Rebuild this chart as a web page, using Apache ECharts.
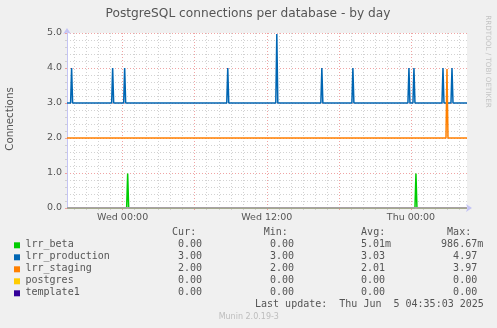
<!DOCTYPE html>
<html><head><meta charset="utf-8">
<script src="https://cdn.jsdelivr.net/npm/echarts@6/dist/echarts.min.js"></script>
<style>html,body{margin:0;padding:0;background:#f0f0f0}#c{width:497px;height:328px}</style>
</head><body><div id="c"></div>
<script>
// x values are hours relative to Wed 00:00
const xStart = -4.6333;   // Tue 19:22
const xEnd = 28.6667;     // Thu 04:40
const sampleStep = 5 / 60; // 5-minute samples

const labelHours = [0, 12, 24];
const labelTexts = ['Wed 00:00', 'Wed 12:00', 'Thu 00:00'];
const majorGridHours = [0, 6, 12, 18, 24];
const minorGridHours = [-4, -3, -2, -1, 1, 2, 3, 4, 5, 7, 8, 9, 10, 11, 13, 14, 15, 16, 17, 19, 20, 21, 22, 23, 25, 26, 27, 28];

const seriesNames = ['lrr_beta', 'lrr_production', 'lrr_staging', 'postgres', 'template1'];
const seriesColors = ['#00CC00', '#0066B3', '#FF8000', '#FFCC00', '#330099'];
const baselineValues = [0, 3, 2, 0, 0];

const betaSpikeHours = [0.417, 24.417];
const betaSpikeValues = [0.98667, 0.98667];
const productionSpikeHours = [-4.25, -0.833, 0.167, 8.75, 12.833, 16.583, 19.167, 23.833, 24.25, 26.667, 27.417];
const productionSpikeValues = [4, 4, 4, 4, 4.97, 4, 4, 4, 4, 4, 4];
const stagingSpikeHours = [27.0];
const stagingSpikeValues = [3.97];
const postgresSpikeHours = [];
const postgresSpikeValues = [];
const template1SpikeHours = [];
const template1SpikeValues = [];

const curValues = ['0.00', '3.00', '2.00', '0.00', '0.00'];
const minValues = ['0.00', '3.00', '2.00', '0.00', '0.00'];
const avgValues = ['5.01m', '3.03', '2.01', '0.00', '0.00'];
const maxValues = ['986.67m', '4.97', '3.97', '0.00', '0.00'];
const lastUpdate = 'Last update:  Thu Jun  5 04:35:03 2025';

const spikeHours = [betaSpikeHours, productionSpikeHours, stagingSpikeHours, postgresSpikeHours, template1SpikeHours];
const spikeValues = [betaSpikeValues, productionSpikeValues, stagingSpikeValues, postgresSpikeValues, template1SpikeValues];

function buildData(i) {
  const base = baselineValues[i];
  const pts = [[xStart, base]];
  spikeHours[i].forEach((t, k) => {
    pts.push([t - sampleStep, base], [t, spikeValues[i][k]], [t + sampleStep, base]);
  });
  pts.push([xEnd, base]);
  return pts;
}

// the template1 line sits on the x axis and renders half-blended in the original
const lineDrawColors = ['#00CC00', '#0066B3', '#FF8000', '#FFCC00', '#9a90d8'];
const series = seriesNames.map((n, i) => ({
  name: n, type: 'line', data: buildData(i), showSymbol: false, symbol: 'none',
  animation: false, silent: true,
  lineStyle: { color: lineDrawColors[i], width: 1.5 },
  xAxisIndex: 0, yAxisIndex: 0
}));

const MONO = '"DejaVu Sans Mono"';
const SANS = '"DejaVu Sans"';
const TXT = '#555';
const graphic = [];
function txt(text, x, y, opt) {
  opt = opt || {};
  graphic.push({
    type: 'text', x: x, y: y, rotation: opt.rotation || 0, silent: true,
    style: {
      text: text, x: 0, y: 0,
      font: opt.font || ('10px ' + MONO),
      fill: opt.fill || TXT,
      textAlign: opt.align || 'left', align: opt.align || 'left',
      textVerticalAlign: 'middle', verticalAlign: 'middle'
    }
  });
}
txt('PostgreSQL connections per database - by day', 248, 14, { font: '12.2px ' + SANS, align: 'center' });
txt('Connections', 10.5, 119, { font: '10.3px ' + SANS, align: 'center', rotation: Math.PI / 2 });
txt('RRDTOOL / TOBI OETIKER', 488, 61.5, { font: '7.2px ' + SANS, align: 'center', rotation: -Math.PI / 2, fill: '#c4c4c4' });

// legend table
const headerY = 232.5, rowY0 = 244.5, rowH = 12;
txt('Cur:', 172.1, headerY);
txt('Min:', 263.7, headerY);
txt('Avg:', 361.1, headerY);
txt('Max:', 447.1, headerY);
const colRights = [202.1, 294.1, 385.1, 477.2];
const cols = [curValues, minValues, avgValues, maxValues];
seriesNames.forEach((n, i) => {
  const y = rowY0 + i * rowH;
  graphic.push({ type: 'rect', silent: true, shape: { x: 14, y: y - 2.2, width: 6, height: 6 }, style: { fill: seriesColors[i] } });
  txt(n, 25.5, y);
  cols.forEach((col, c) => {
    const v = col[i];
    const m = /^([\d.]+)(\D*)$/.exec(v);
    txt(m[1], colRights[c], y, { align: 'right' });
    if (m[2]) txt(m[2], colRights[c], y);
  });
});
txt(lastUpdate, 483.8, rowY0 + 5 * rowH, { align: 'right' });
txt('Munin 2.0.19-3', 248.8, 317, { font: '8px ' + SANS, align: 'center', fill: '#bdbdbd' });

const axisColor = '#c4c4f4';
const option = {
  backgroundColor: '#f0f0f0',
  animation: false,
  grid: { left: 67, top: 33, width: 400, height: 175, show: true, backgroundColor: '#ffffff', borderWidth: 0 },
  xAxis: [
    {
      type: 'value', min: xStart, max: xEnd, position: 'bottom',
      axisLine: { show: false, onZero: false },
      axisTick: { show: true, customValues: minorGridHours, length: 2, lineStyle: { color: '#d0d0d0' } },
      axisLabel: { show: false },
      splitLine: { show: true, lineStyle: { color: '#d2d2d2', width: 1, type: [1, 2] } }
    },
    {
      type: 'value', min: xStart, max: xEnd, position: 'bottom',
      axisLine: { show: true, onZero: false, lineStyle: { color: axisColor, width: 1 }, symbol: ['none', 'arrow'], symbolSize: [6, 6], symbolOffset: [0, 5] },
      axisTick: { show: true, customValues: majorGridHours, length: 2, lineStyle: { color: '#f0a0a0' } },
      axisLabel: {
        customValues: labelHours, color: TXT, fontSize: 9.5, fontFamily: 'DejaVu Sans', margin: 5,
        formatter: v => { const k = labelHours.indexOf(Math.round(v)); return k >= 0 ? labelTexts[k] : ''; }
      },
      splitLine: { show: true, lineStyle: { color: '#f0a4a4', width: 1, type: [1, 2] } }
    }
  ],
  yAxis: {
    type: 'value', min: 0, max: 5, interval: 1,
    axisLine: { show: true, onZero: false, lineStyle: { color: axisColor, width: 1 }, symbol: ['none', 'arrow'], symbolSize: [6, 6], symbolOffset: [0, 5] },
    axisTick: { show: true, length: 2, lineStyle: { color: '#f0a0a0' } },
    minorTick: { show: true, splitNumber: 5, length: 2, lineStyle: { color: '#d0d0d0' } },
    axisLabel: { color: TXT, fontSize: 9.5, fontFamily: 'DejaVu Sans', margin: 5, formatter: v => v.toFixed(1) },
    splitLine: { show: true, lineStyle: { color: '#f0a4a4', width: 1, type: [1, 2] } },
    minorSplitLine: { show: true, lineStyle: { color: '#d2d2d2', width: 1, type: [1, 2] } }
  },
  series: series,
  graphic: graphic
};
const chart = echarts.init(document.getElementById('c'), null, { renderer: 'canvas' });
chart.setOption(option);
</script></body></html>
